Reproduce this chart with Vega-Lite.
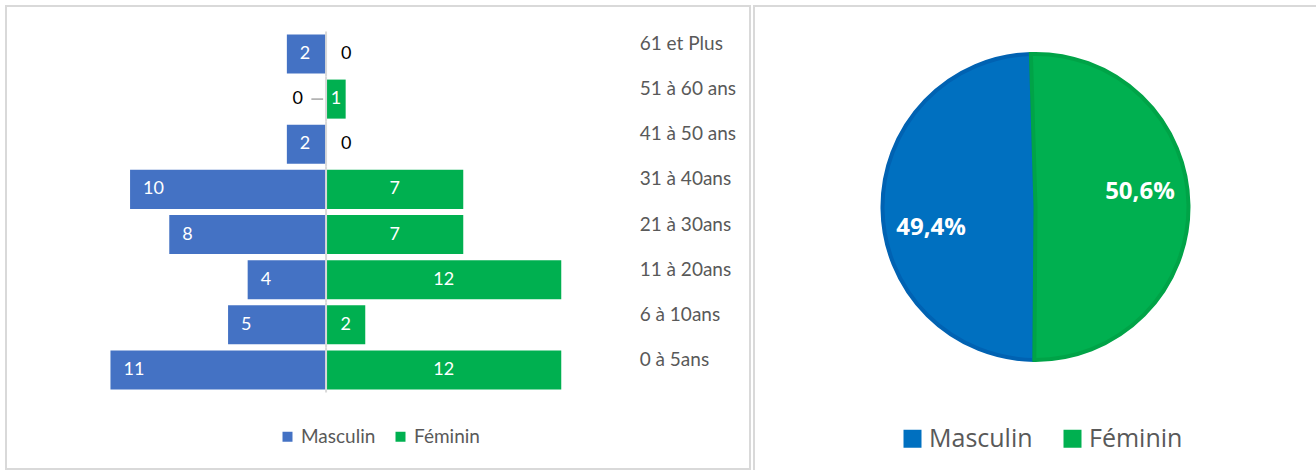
{
  "$schema": "https://vega.github.io/schema/vega-lite/v6.json",
  "padding": {"left": 5, "top": 5, "right": 0, "bottom": 0},
  "spacing": 4,
  "bounds": "flush",
  "config": {
    "view": {"stroke": "#d9d9d9", "strokeWidth": 2},
    "font": "Lato"
  },
  "datasets": {
    "pyr": [
      {"age": "61 et Plus", "sexe": "Masculin", "n": 2},
      {"age": "61 et Plus", "sexe": "Féminin", "n": 0},
      {"age": "51 à 60 ans", "sexe": "Masculin", "n": 0},
      {"age": "51 à 60 ans", "sexe": "Féminin", "n": 1},
      {"age": "41 à 50 ans", "sexe": "Masculin", "n": 2},
      {"age": "41 à 50 ans", "sexe": "Féminin", "n": 0},
      {"age": "31 à 40ans", "sexe": "Masculin", "n": 10},
      {"age": "31 à 40ans", "sexe": "Féminin", "n": 7},
      {"age": "21 à 30ans", "sexe": "Masculin", "n": 8},
      {"age": "21 à 30ans", "sexe": "Féminin", "n": 7},
      {"age": "11 à 20ans", "sexe": "Masculin", "n": 4},
      {"age": "11 à 20ans", "sexe": "Féminin", "n": 12},
      {"age": "6 à 10ans", "sexe": "Masculin", "n": 5},
      {"age": "6 à 10ans", "sexe": "Féminin", "n": 2},
      {"age": "0 à 5ans", "sexe": "Masculin", "n": 11},
      {"age": "0 à 5ans", "sexe": "Féminin", "n": 12}
    ],
    "pie": [
      {"sexe": "Masculin", "pct": 49.4, "label": "49,4%"},
      {"sexe": "Féminin", "pct": 50.6, "label": "50,6%"}
    ]
  },
  "resolve": {"scale": {"color": "independent"}, "legend": {"color": "independent"}},
  "hconcat": [
    {
      "width": 744,
      "height": 463,
      "data": {"name": "pyr"},
      "transform": [
        {"calculate": "datum.sexe === 'Masculin' ? -datum.n : datum.n", "as": "v"},
        {"calculate": "datum.v / 2", "as": "mid"}
      ],
      "encoding": {
        "y": {
          "field": "age",
          "type": "nominal",
          "scale": {
            "domain": ["61 et Plus", "51 à 60 ans", "41 à 50 ans", "31 à 40ans", "21 à 30ans", "11 à 20ans", "6 à 10ans", "0 à 5ans"],
            "range": [25.4, 386.5],
            "paddingInner": 0,
            "paddingOuter": 0
          },
          "axis": null
        }
      },
      "layer": [
        {
          "mark": {"type": "bar", "height": {"band": 0.865}},
          "transform": [{"filter": "datum.n > 0"}],
          "encoding": {
            "x": {"field": "v", "type": "quantitative", "scale": {"domain": [-16.33, 21.63], "nice": false, "zero": false}, "axis": null},
            "x2": {"datum": 0},
            "color": {
              "field": "sexe",
              "type": "nominal",
              "scale": {"domain": ["Masculin", "Féminin"], "range": ["#4472C4", "#00B050"]},
              "legend": {
                "title": null,
                "orient": "none",
                "legendX": 272,
                "legendY": 421,
                "direction": "horizontal",
                "symbolType": "square",
                "symbolSize": 100,
                "symbolStrokeWidth": 0,
                "labelFont": "Lato",
                "labelFontSize": 19,
                "labelColor": "#595959",
                "columnPadding": 15,
                "labelOffset": 4
              }
            }
          }
        },
        {
          "mark": {"type": "rect", "filled": false, "color": "#d9d9d9", "strokeWidth": 2},
          "transform": [{"filter": "datum.sexe === 'Masculin'"}],
          "encoding": {"x": {"datum": 0}, "x2": {"datum": 0}}
        },
        {
          "mark": {"type": "rule", "color": "#a6a6a6", "strokeWidth": 1.5},
          "transform": [{"filter": "datum.sexe === 'Masculin' && datum.n === 0"}],
          "encoding": {"x": {"datum": -0.75}, "x2": {"datum": -0.15}}
        },
        {
          "mark": {"type": "text", "align": "left", "baseline": "middle", "dx": 13, "color": "white", "fontSize": 18, "font": "Lato"},
          "transform": [{"filter": "datum.sexe === 'Masculin' && datum.n > 0"}],
          "encoding": {"x": {"field": "v", "type": "quantitative"}, "text": {"field": "n", "type": "quantitative"}}
        },
        {
          "mark": {"type": "text", "align": "center", "baseline": "middle", "color": "white", "fontSize": 18, "font": "Lato"},
          "transform": [{"filter": "datum.sexe === 'Féminin' && datum.n > 0"}],
          "encoding": {"x": {"field": "mid", "type": "quantitative"}, "text": {"field": "n", "type": "quantitative"}}
        },
        {
          "mark": {"type": "text", "align": "left", "baseline": "middle", "dx": 15, "color": "#000000", "fontSize": 18, "font": "Lato"},
          "transform": [{"filter": "datum.sexe === 'Féminin' && datum.n === 0"}],
          "encoding": {"x": {"datum": 0}, "text": {"field": "n", "type": "quantitative"}}
        },
        {
          "mark": {"type": "text", "align": "right", "baseline": "middle", "dx": -23, "color": "#000000", "fontSize": 18, "font": "Lato"},
          "transform": [{"filter": "datum.sexe === 'Masculin' && datum.n === 0"}],
          "encoding": {"x": {"datum": 0}, "text": {"field": "n", "type": "quantitative"}}
        },
        {
          "mark": {"type": "text", "align": "left", "baseline": "middle", "dy": -10, "color": "#595959", "fontSize": 19, "font": "Lato"},
          "transform": [{"filter": "datum.sexe === 'Masculin'"}],
          "encoding": {"x": {"datum": 16}, "text": {"field": "age", "type": "nominal"}}
        }
      ]
    },
    {
      "width": 563,
      "height": 465,
      "data": {"name": "pie"},
      "encoding": {
        "y": {"datum": 0.568, "type": "quantitative", "scale": {"domain": [0, 1], "nice": false, "zero": false}, "axis": null},
        "order": {"field": "sexe", "sort": "ascending"}
      },
      "layer": [
        {
          "mark": {"type": "arc", "outerRadius": 153, "strokeWidth": 4},
          "encoding": {
            "theta": {"field": "pct", "type": "quantitative", "stack": true, "scale": {"range": [-0.03, 6.253]}},
            "color": {
              "field": "sexe",
              "type": "nominal",
              "scale": {"domain": ["Masculin", "Féminin"], "range": ["#0070C0", "#00B050"]},
              "legend": {
                "title": null,
                "orient": "none",
                "legendX": 146,
                "legendY": 420,
                "direction": "horizontal",
                "symbolType": "square",
                "symbolSize": 324,
                "symbolStrokeWidth": 0,
                "labelFont": "Open Sans",
                "labelFontSize": 25,
                "labelColor": "#595959",
                "columnPadding": 27,
                "labelOffset": 4
              }
            },
            "stroke": {
              "field": "sexe",
              "type": "nominal",
              "scale": {"domain": ["Masculin", "Féminin"], "range": ["#0062B2", "#00A347"]},
              "legend": null
            }
          }
        },
        {
          "mark": {"type": "text", "radius": 106, "dy": 3, "font": "Open Sans", "fontWeight": "bold", "fontSize": 24, "color": "white", "align": "center", "baseline": "middle"},
          "encoding": {
            "theta": {"field": "pct", "type": "quantitative", "stack": true, "scale": {"range": [-0.19, 6.093]}},
            "text": {"field": "label", "type": "nominal"}
          }
        }
      ],
      "resolve": {"scale": {"theta": "independent"}}
    }
  ]
}
